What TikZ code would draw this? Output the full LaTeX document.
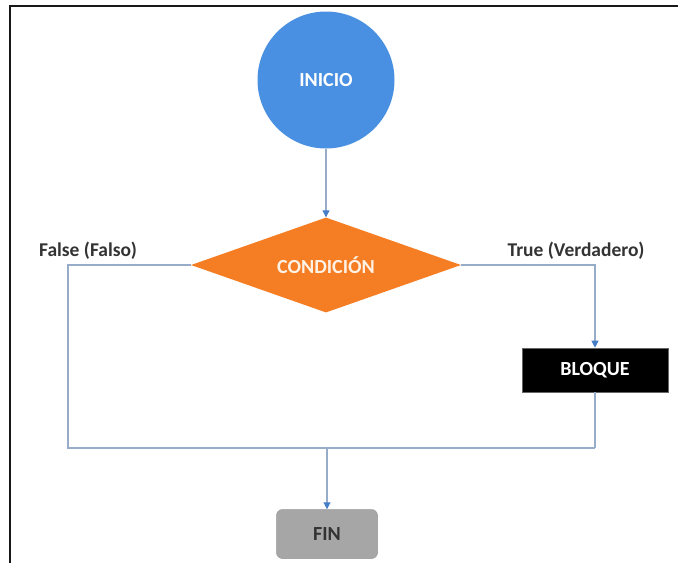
\documentclass[tikz,border=0pt]{standalone}
\usepackage{fontspec}
\setmainfont{Carlito}
\usetikzlibrary{arrows.meta,shapes.geometric}
\definecolor{startblue}{RGB}{74,144,226}
\definecolor{condorange}{RGB}{245,125,35}
\definecolor{endgray}{RGB}{166,166,166}
\definecolor{linegray}{RGB}{150,172,200}
\definecolor{tipblue}{RGB}{70,125,200}
\tikzset{
  conn/.style={draw=linegray, line width=1.1pt},
  arr/.style={conn, -{Triangle[length=7pt,width=7pt,fill=tipblue,color=tipblue]}},
  boxfont/.style={font=\bfseries\fontsize{20}{24}\selectfont},
  lbl/.style={font=\bfseries\fontsize{19.5}{23}\selectfont, text=black!80},
}
\begin{document}
\begin{tikzpicture}[x=1pt,y=-1pt]
  \useasboundingbox (0,0) rectangle (678,563);
  % frame
  \draw[line width=2.2pt, black!90] (10,563) -- (10,6) -- (678,6);
  % shapes
  \node[circle, fill=startblue, minimum size=137pt, inner sep=0pt,
        boxfont, text=white] (start) at (326,80) {INICIO};
  \node[diamond, fill=condorange, minimum width=270pt, minimum height=95pt, inner sep=0pt,
        aspect=2.8, boxfont, text=white!90!orange] (cond) at (326,265) {CONDICIÓN};
  \node[rectangle, fill=black, draw=black!60, line width=0.6pt, minimum width=146pt, minimum height=44pt,
        boxfont, text=white] (blk) at (595,370) {BLOQUE};
  \node[rectangle, rounded corners=6pt, fill=endgray, draw=endgray!90!black, line width=0.5pt,
        minimum width=101pt, minimum height=49pt,
        boxfont, text=black!80] (fin) at (327,534) {FIN};
  % branch labels
  \node[lbl] (flbl) at (88,251) {False (Falso)};
  \node[lbl] (tlbl) at (576,251) {True (Verdadero)};
  % junction points
  \coordinate (lcorner) at (68,448);
  \coordinate (rjoin) at (595,448);
  \coordinate (mjoin) at (327,448);
  % connectors
  \draw[arr] (start) -- (cond.north);
  \draw[arr] (cond.east) -| (blk.north);
  \draw[conn] (cond.west) -| (lcorner) -- (rjoin);
  \draw[conn] (blk.south) -- (rjoin);
  \draw[arr] (mjoin) -- (fin.north);
\end{tikzpicture}
\end{document}
